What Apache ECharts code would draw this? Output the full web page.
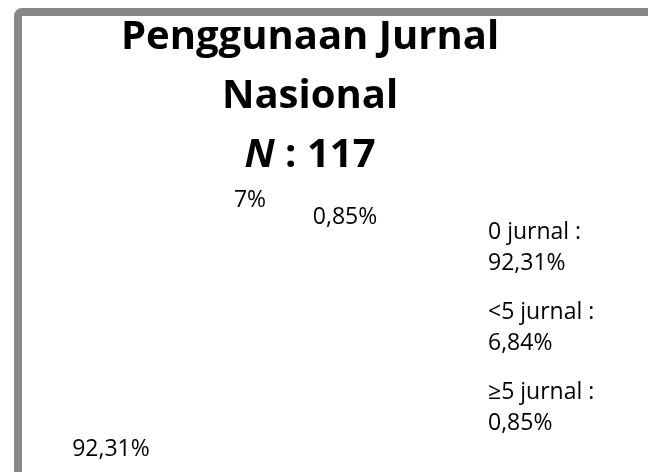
<!DOCTYPE html>
<html>
<head>
<meta charset="utf-8">
<script src="https://cdn.jsdelivr.net/npm/echarts@6/dist/echarts.min.js"></script>
<style>html,body{margin:0;padding:0;background:#fff;}#c{width:648px;height:472px;}</style>
</head>
<body>
<div id="c"></div>
<script>
var categories = ['0 jurnal', '<5 jurnal', '≥5 jurnal'];
var counts = [108, 8, 1];
var percentLabels = ['92,31%', '6,84%', '0,85%'];
var sliceLabels = ['92,31%', '7%', '0,85%'];

var labelPos = [[111, 449], [250, 200], [345, 217]];
var chart = echarts.init(document.getElementById('c'));
var FONT = '"Open Sans", "Noto Sans", sans-serif';
chart.setOption({
  backgroundColor: '#ffffff',
  animation: false,
  graphic: [{
    type: 'rect', silent: true,
    shape: { x: 18, y: 12, width: 1200, height: 1200, r: 4 },
    style: { fill: 'none', stroke: '#878787', lineWidth: 8 }
  }],
  title: {
    text: 'Penggunaan Jurnal\nNasional\n{i|N} : 117',
    left: 305, top: 3, textAlign: 'center',
    textStyle: {
      fontFamily: FONT, fontWeight: 'bold', fontSize: 40, color: '#000', lineHeight: 59,
      rich: { i: { fontFamily: FONT, fontWeight: 'bold', fontStyle: 'italic', fontSize: 40, color: '#000', lineHeight: 59 } }
    }
  },
  legend: {
    orient: 'vertical', left: 478, top: 212,
    itemWidth: 0, itemHeight: 0, itemGap: 18, icon: 'rect',
    data: categories,
    formatter: function (name) { return name + ' :\n' + percentLabels[categories.indexOf(name)]; },
    textStyle: { fontFamily: FONT, fontSize: 23, color: '#000', lineHeight: 31 }
  },
  series: [{
    type: 'pie', center: [230, 330], radius: 110, startAngle: 90,
    silent: true,
    itemStyle: { color: 'rgba(255,255,255,0)', borderWidth: 0 },
    label: {
      show: true, fontFamily: FONT, fontSize: 23, color: '#000',
      formatter: function (p) { return sliceLabels[p.dataIndex]; }
    },
    labelLine: { show: false },
    labelLayout: function (p) {
      return { x: labelPos[p.dataIndex][0], y: labelPos[p.dataIndex][1], align: 'center', verticalAlign: 'middle' };
    },
    data: categories.map(function (c, i) { return { name: c, value: counts[i] }; })
  }]
});
</script>
</body>
</html>
